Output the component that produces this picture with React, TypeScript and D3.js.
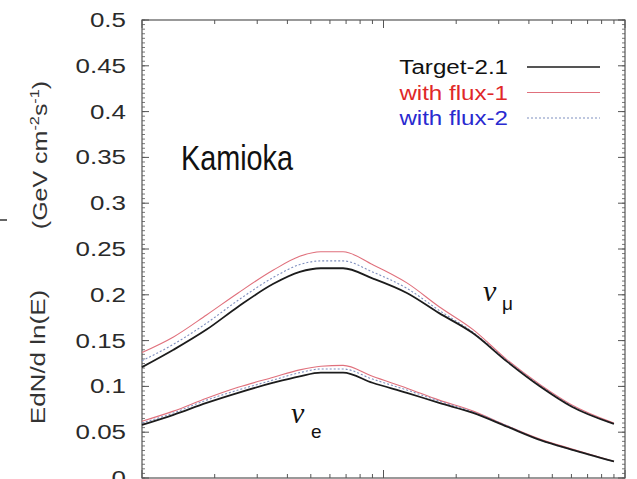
import React from "react";
import * as d3 from "d3";

// Neutrino energy grid (GeV) and fluxes E dN/d ln(E) at Kamioka
const energies = [0.1, 0.135, 0.185, 0.25, 0.35, 0.45, 0.55, 0.68, 0.9, 1.25, 1.7, 2.35, 3.25, 4.5, 6, 9];
const numuTarget = [0.121, 0.14, 0.162, 0.187, 0.212, 0.225, 0.229, 0.229, 0.218, 0.202, 0.18, 0.158, 0.127, 0.099, 0.078, 0.059];
const numuFlux1 = [0.137, 0.154, 0.178, 0.202, 0.227, 0.242, 0.247, 0.247, 0.233, 0.213, 0.187, 0.162, 0.129, 0.101, 0.08, 0.06];
const numuFlux2 = [0.128, 0.146, 0.169, 0.194, 0.219, 0.233, 0.237, 0.237, 0.225, 0.207, 0.183, 0.159, 0.128, 0.1, 0.079, 0.059];
const nueTarget = [0.058, 0.069, 0.082, 0.093, 0.104, 0.111, 0.115, 0.115, 0.104, 0.093, 0.082, 0.071, 0.056, 0.041, 0.031, 0.018];
const nueFlux1 = [0.062, 0.073, 0.087, 0.099, 0.11, 0.118, 0.122, 0.123, 0.111, 0.098, 0.085, 0.073, 0.057, 0.042, 0.032, 0.018];
const nueFlux2 = [0.06, 0.071, 0.085, 0.096, 0.107, 0.115, 0.119, 0.119, 0.108, 0.096, 0.084, 0.072, 0.057, 0.041, 0.031, 0.018];

const yTickLabels = ["0", "0.05", "0.1", "0.15", "0.2", "0.25", "0.3", "0.35", "0.4", "0.45", "0.5"];
const legendNames = ["Target-2.1", "with flux-1", "with flux-2"];

const W = 637;
const H = 479;
const left = 142;
const right = 625;
const top = 20;
const bottom = 478;

const FONT = "'Liberation Sans', Arial, Helvetica, sans-serif";

const styles = [
  { stroke: "#1c1c1c", width: 1.8, dash: "none", text: "#111" },
  { stroke: "#e0707c", width: 1.1, dash: "none", text: "#e02828" },
  { stroke: "#7f8fbf", width: 1.1, dash: "2,2", text: "#2a2ad0" },
];

export default function App() {
  const x = d3.scaleLog().domain([0.1, 10]).range([left, right]);
  const y = d3.scaleLinear().domain([0, 0.5]).range([bottom, top]);

  const line = d3
    .line<number>()
    .x((_, i) => x(energies[i]))
    .y((v) => y(v))
    .curve(d3.curveMonotoneX);

  const groups = [
    [numuFlux1, nueFlux1],
    [numuFlux2, nueFlux2],
    [numuTarget, nueTarget],
  ];
  const groupStyle = [styles[1], styles[2], styles[0]];

  const yMajor = d3.range(0, 11).map((i) => i * 0.05);
  const yMinor = d3.range(0, 101).map((i) => i * 0.005);
  const xTicks = x.ticks();
  const isMajor = (v: number) => Math.abs(Math.log10(v) - Math.round(Math.log10(v))) < 1e-6;

  const axisColor = "#555";

  return (
    <svg
      width={W}
      height={H}
      style={{ position: "absolute", left: 0, top: 0, background: "#fff" }}
      fontFamily={FONT}
    >
      <rect width={W} height={H} fill="#fff" />

      {/* y minor + major ticks on left and right frames */}
      {yMinor.map((v, i) => (
        <g key={"ym" + i} stroke={axisColor} strokeWidth={0.8}>
          <line x1={left} x2={left + 3} y1={y(v)} y2={y(v)} />
          <line x1={right} x2={right - 3} y1={y(v)} y2={y(v)} />
        </g>
      ))}
      {yMajor.map((v, i) => (
        <g key={"yM" + i} stroke={axisColor} strokeWidth={1}>
          <line x1={left} x2={left + 7} y1={y(v)} y2={y(v)} />
          <line x1={right} x2={right - 7} y1={y(v)} y2={y(v)} />
        </g>
      ))}

      {/* x log ticks on bottom and top frames */}
      {xTicks.map((v, i) => {
        const len = isMajor(v) ? 8 : 4;
        return (
          <g key={"xt" + i} stroke={axisColor} strokeWidth={1}>
            <line x1={x(v)} x2={x(v)} y1={bottom} y2={bottom - len} />
            <line x1={x(v)} x2={x(v)} y1={top} y2={top + len} />
          </g>
        );
      })}

      {/* frame */}
      <rect
        x={left}
        y={top}
        width={right - left}
        height={bottom - top}
        fill="none"
        stroke={axisColor}
        strokeWidth={1.2}
      />

      {/* y tick labels */}
      {yMajor.map((v, i) => (
        <text
          key={"yl" + i}
          transform={`translate(126,${y(v) + 7}) scale(1.33,1)`}
          textAnchor="end"
          fontSize={19.5}
          fill="#2a2a2a"
        >
          {yTickLabels[i]}
        </text>
      ))}

      {/* y axis title */}
      <text
        transform={`translate(45,357) rotate(-90) scale(1.3,1)`}
        textAnchor="middle"
        fontSize={20}
        fill="#333"
      >
        EdN/d ln(E)
      </text>
      <text
        transform={`translate(47,155) rotate(-90) scale(1.25,1)`}
        textAnchor="middle"
        fontSize={20}
        fill="#333"
      >
        (GeV cm
        <tspan fontSize={13} dy={-8}>-2</tspan>
        <tspan dy={8}>s</tspan>
        <tspan fontSize={13} dy={-8}>-1</tspan>
        <tspan dy={8}>)</tspan>
      </text>
      <line x1={0} x2={7} y1={220} y2={220} stroke="#333" strokeWidth={1.5} />

      {/* curves */}
      {groups.map((pair, gi) =>
        pair.map((vals, j) => (
          <path
            key={`c${gi}-${j}`}
            d={line(vals) || ""}
            fill="none"
            stroke={groupStyle[gi].stroke}
            strokeWidth={groupStyle[gi].width}
            strokeDasharray={groupStyle[gi].dash}
          />
        ))
      )}

      {/* site label */}
      <text transform="translate(181,170) scale(0.8,1)" fontSize={36} fill="#111">
        Kamioka
      </text>

      {/* legend */}
      {legendNames.map((name, i) => (
        <g key={"lg" + i}>
          <text
            transform={`translate(508,${74 + i * 25.5}) scale(1.15,1)`}
            textAnchor="end"
            fontSize={21}
            fill={styles[i].text}
          >
            {name}
          </text>
          <line
            x1={527}
            x2={600}
            y1={67 + i * 25.5}
            y2={67 + i * 25.5}
            stroke={styles[i].stroke}
            strokeWidth={i === 0 ? 1.3 : 1.1}
            strokeDasharray={styles[i].dash}
          />
        </g>
      ))}

      {/* flavour labels */}
      <text x={483} y={301} fontSize={30} fontStyle="italic" fontFamily="'Liberation Serif', 'Times New Roman', serif" fill="#111">
        ν
      </text>
      <text x={502} y={310} fontSize={19} fill="#111">
        μ
      </text>
      <text x={291} y={423} fontSize={30} fontStyle="italic" fontFamily="'Liberation Serif', 'Times New Roman', serif" fill="#111">
        ν
      </text>
      <text x={311} y={438} fontSize={19} fill="#111">
        e
      </text>
    </svg>
  );
}
